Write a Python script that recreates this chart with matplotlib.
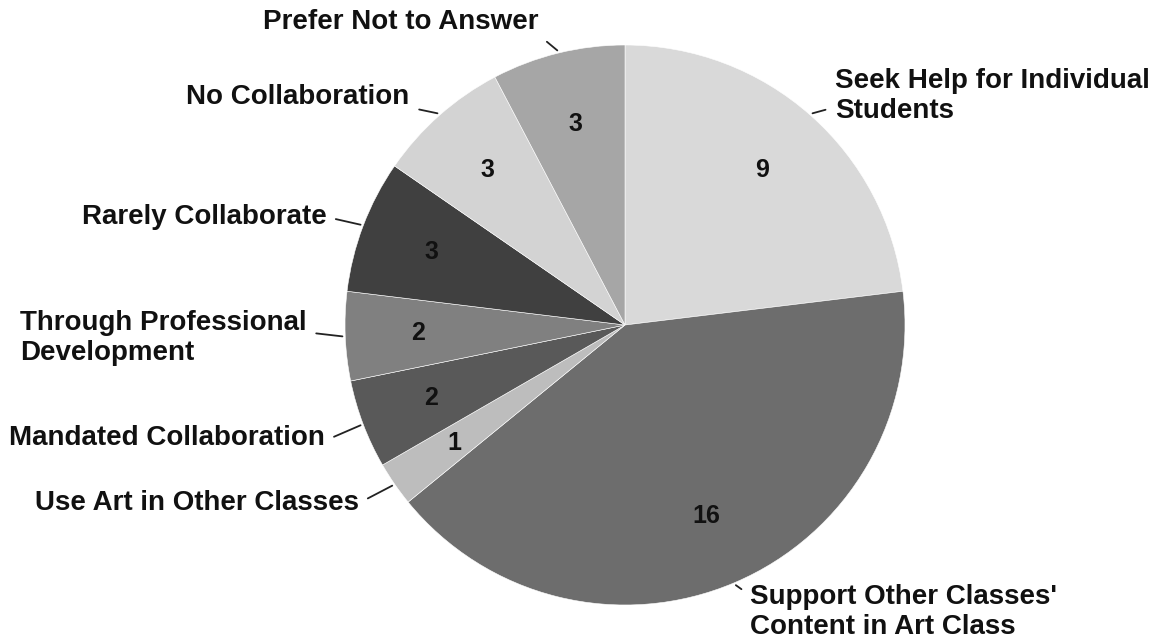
import matplotlib
matplotlib.use("Agg")
import matplotlib.pyplot as plt
import numpy as np

# survey answers, clockwise from 12 o'clock
categories = ["Seek Help for Individual\nStudents",
              "Support Other Classes'\nContent in Art Class",
              "Use Art in Other Classes",
              "Mandated Collaboration",
              "Through Professional\nDevelopment",
              "Rarely Collaborate",
              "No Collaboration",
              "Prefer Not to Answer"]
counts = [9, 16, 1, 2, 2, 3, 3, 3]

colors = ["#d9d9d9", "#6d6d6d", "#bdbdbd", "#595959",
          "#808080", "#404040", "#d3d3d3", "#a6a6a6"]

# where each outside label sits (data units, pie radius = 1), alignment, leader anchor
label_pos = [(0.75, 0.818, "left", (0.0, 0.3)),
             (0.446, -1.025, "left", (0.0, 0.8)),
             (-1.529, -0.636, "center", (1.0, 0.5)),
             (-1.636, -0.404, "center", (1.0, 0.4)),
             (-2.161, -0.046, "left", (1.0, 0.6)),
             (-1.504, 0.386, "center", (1.0, 0.5)),
             (-1.168, 0.814, "center", (1.0, 0.1)),
             (-0.80, 1.082, "center", (1.0, 0.0))]

plt.rcParams["font.family"] = ["Liberation Sans", "DejaVu Sans"]

fig = plt.figure(figsize=(11.59, 6.42), dpi=100)
ax = fig.add_axes([0, 0, 1, 1])

wedges, texts = ax.pie(counts, colors=colors, startangle=90, counterclock=False,
                       radius=1.0, center=(0, 0),
                       wedgeprops=dict(edgecolor="white", linewidth=0.4))

for w, n, lab, (tx, ty, ha, rel) in zip(wedges, counts, categories, label_pos):
    mid = np.deg2rad((w.theta1 + w.theta2) / 2)
    # count inside the slice
    ax.text(0.74 * np.cos(mid), 0.74 * np.sin(mid), str(n), ha="center", va="center",
            fontsize=18, fontweight="bold", color="#111111")
    ax.annotate(lab, xy=(1.01 * np.cos(mid), 1.01 * np.sin(mid)), xytext=(tx, ty),
                ha=ha, va="center", multialignment="left",
                fontsize=20, fontweight="bold", color="#111111", linespacing=1.2,
                arrowprops=dict(arrowstyle="-", color="#222222", lw=1.3,
                                relpos=rel, shrinkA=5, shrinkB=0))

ax.set_xlim(-625 / 280, (1159 - 625) / 280)
ax.set_ylim(-(642 - 325) / 280, 325 / 280)
ax.set_aspect("equal")
ax.axis("off")

fig.savefig("out.png", dpi=100, facecolor="white")
